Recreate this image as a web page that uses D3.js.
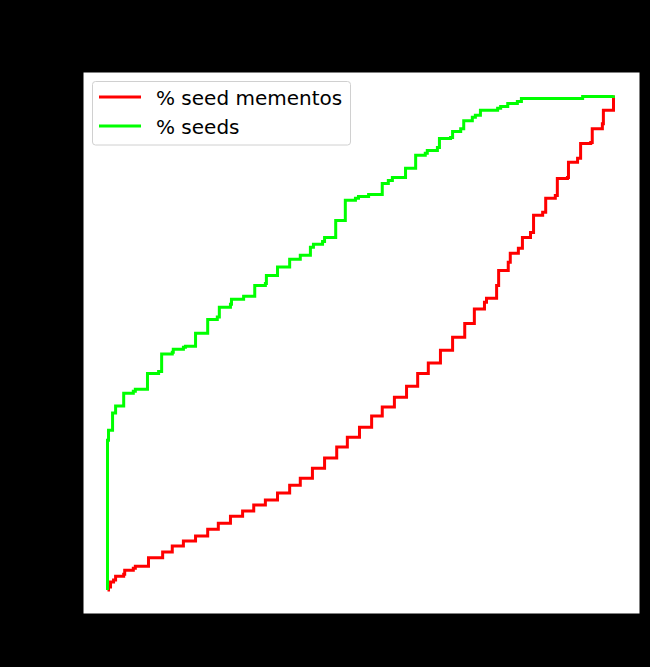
<!DOCTYPE html>
<html>
<head>
<meta charset="utf-8">
<script src="https://cdn.jsdelivr.net/npm/d3@7"></script>
<style>
  html, body { margin: 0; padding: 0; background: #000; }
  svg { display: block; }
</style>
</head>
<body>
<svg id="chart" width="650" height="667"></svg>
<script>
// Series: step points (x %, y %) — value jumps to y at x
const seriesNames = ["% seed mementos", "% seeds"];

const mementosX = [0, 0.2, 0.6, 1.2, 1.6, 3.2, 3.4, 5.1, 5.5, 8.1, 10.9, 12.8, 15.0, 17.4, 19.8, 21.9, 24.3, 26.7, 28.9, 31.2, 33.6, 36.0, 38.1, 40.5, 42.9, 45.3, 47.4, 49.8, 52.2, 54.3, 56.7, 59.1, 61.3, 63.4, 65.8, 68.2, 70.6, 72.5, 74.5, 74.9, 76.9, 77.3, 79.2, 79.6, 81.2, 82.0, 83.6, 84.2, 86.0, 86.6, 88.5, 88.9, 90.9, 91.1, 92.9, 93.5, 95.5, 95.8, 97.8, 98.0, 100];
const mementosY = [0, 0.6, 1.6, 2.0, 2.8, 3.2, 4.0, 4.4, 4.8, 6.5, 7.7, 8.9, 9.9, 10.9, 12.3, 13.5, 14.9, 16.0, 17.2, 18.2, 19.6, 21.2, 22.6, 24.6, 26.7, 28.9, 30.9, 32.9, 35.2, 37.0, 39.0, 41.2, 43.8, 45.9, 48.5, 51.1, 53.9, 56.8, 58.2, 59.0, 61.6, 64.6, 66.3, 68.1, 69.1, 71.3, 72.3, 75.8, 76.4, 79.2, 79.8, 83.2, 83.4, 86.5, 87.3, 90.3, 90.5, 93.3, 94.3, 97.0, 100];

const seedsX = [0, 0, 0.2, 1.0, 1.6, 3.2, 5.1, 5.5, 7.9, 10.1, 10.7, 12.8, 13.0, 15.0, 15.4, 17.4, 19.8, 21.7, 22.1, 24.3, 24.5, 26.9, 29.1, 31.2, 31.4, 33.6, 36.0, 38.1, 40.1, 40.7, 42.5, 42.9, 45.1, 47.0, 49.0, 49.6, 51.6, 54.3, 55.5, 56.3, 58.9, 60.9, 62.8, 63.2, 65.2, 65.6, 67.8, 68.2, 69.8, 70.4, 72.1, 72.7, 73.7, 77.1, 77.7, 79.1, 81.0, 81.8, 93.9, 100];
const seedsY = [0, 30.3, 32.3, 35.8, 37.2, 39.8, 40.2, 40.6, 43.8, 44.2, 47.7, 48.1, 48.7, 49.1, 49.3, 51.9, 54.7, 55.2, 57.2, 57.8, 58.8, 59.4, 61.6, 62.0, 63.6, 65.3, 66.9, 67.7, 69.3, 69.9, 70.5, 71.3, 74.7, 78.8, 79.2, 79.6, 80.0, 82.2, 82.8, 83.4, 85.3, 87.9, 88.3, 88.9, 89.5, 91.3, 91.5, 92.7, 93.3, 94.9, 95.6, 96.0, 97.0, 97.4, 97.8, 98.4, 98.8, 99.4, 99.8, 100];

const seriesColors = ["#ff0000", "#00ff00"];

const svg = d3.select("#chart");
const W = 650, H = 667;
const plot = { left: 83, right: 640, top: 72, bottom: 614 };

svg.append("rect").attr("width", W).attr("height", H).attr("fill", "#000");
svg.append("rect")
  .attr("x", plot.left).attr("y", plot.top)
  .attr("width", plot.right - plot.left).attr("height", plot.bottom - plot.top)
  .attr("fill", "#fff");

const x = d3.scaleLinear().domain([0, 100]).range([107.5, 613.5]);
const y = d3.scaleLinear().domain([0, 100]).range([590, 95.5]);

// axes (black on black, as in the reference)
svg.append("g").attr("transform", `translate(0,${plot.bottom})`)
  .call(d3.axisBottom(x).ticks(5).tickFormat(""))
  .call(g => g.selectAll("line,path").attr("stroke", "#000"))
  .call(g => g.select(".domain").remove());
svg.append("g").attr("transform", `translate(${plot.left},0)`)
  .call(d3.axisLeft(y).ticks(5).tickFormat(""))
  .call(g => g.selectAll("line,path").attr("stroke", "#000"))
  .call(g => g.select(".domain").remove());

// frame
svg.append("rect")
  .attr("x", plot.left).attr("y", plot.top)
  .attr("width", plot.right - plot.left).attr("height", plot.bottom - plot.top)
  .attr("fill", "none").attr("stroke", "#000").attr("stroke-width", 1);

const line = d3.line()
  .x(d => x(d[0])).y(d => y(d[1]))
  .curve(d3.curveStepAfter);

const seriesData = [
  d3.zip(mementosX, mementosY),
  d3.zip(seedsX, seedsY)
];

seriesData.forEach((pts, i) => {
  svg.append("path")
    .datum(pts)
    .attr("d", line)
    .attr("fill", "none")
    .attr("stroke", seriesColors[i])
    .attr("stroke-width", 3)
    .attr("stroke-linejoin", "miter");
});

// legend
const lg = svg.append("g");
lg.append("rect")
  .attr("x", 92.5).attr("y", 81.5).attr("width", 258).attr("height", 63.5)
  .attr("rx", 3).attr("fill", "#fff").attr("fill-opacity", 0.8)
  .attr("stroke", "#d0d0d0").attr("stroke-width", 1);
const rowY = [97, 126];
seriesNames.forEach((name, i) => {
  lg.append("line")
    .attr("x1", 99).attr("x2", 141).attr("y1", rowY[i]).attr("y2", rowY[i])
    .attr("stroke", seriesColors[i]).attr("stroke-width", 3);
  lg.append("text")
    .attr("x", 156).attr("y", rowY[i] + 8)
    .attr("font-family", "DejaVu Sans")
    .attr("font-size", "20px")
    .attr("fill", "#000")
    .text(name);
});
</script>
</body>
</html>
